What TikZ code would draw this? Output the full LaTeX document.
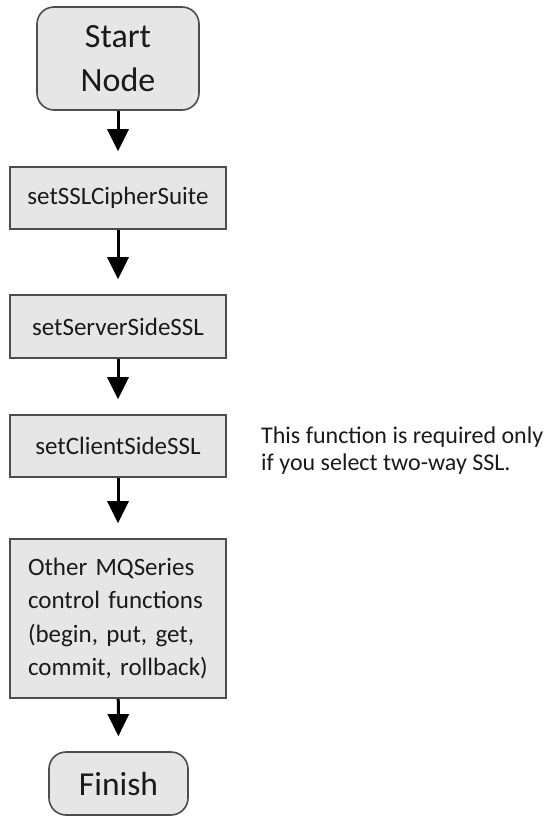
\documentclass[tikz,border=0pt]{standalone}
\usepackage{fontspec}
\setmainfont{Carlito}
\usetikzlibrary{arrows.meta}
\hyphenpenalty=10000
\exhyphenpenalty=10000
\definecolor{boxfill}{HTML}{E6E6E6}
\definecolor{boxline}{HTML}{4D4D4D}
\definecolor{txt}{HTML}{1A1A1A}
\tikzset{
  x=1pt, y=1pt,
  procbox/.style={draw=boxline, fill=boxfill, line width=1.6pt, text=txt,
    minimum width=216pt, inner sep=0pt, font=\fontsize{25}{30}\selectfont},
  termbox/.style={procbox, rounded corners=17pt},
  flowarrow/.style={line width=3pt, -{Triangle[length=22pt,width=21pt]}, shorten >=15pt},
}
\begin{document}
\begin{tikzpicture}
\useasboundingbox (0,0) rectangle (545,-817);
\node[termbox, minimum width=162pt, minimum height=103pt, align=center,
      font=\fontsize{34}{44}\selectfont] (start) at (118,-58.5) {Start\\Node};
\node[procbox, minimum height=62pt] (b1) at (118,-198) {setSSLCipherSuite};
\node[procbox, minimum height=63pt] (b2) at (118,-326.5) {setServerSideSSL};
\node[procbox, minimum height=62pt] (b3) at (118,-446) {setClientSideSSL};
\node[procbox, minimum height=159pt, text width=180pt, align=left,
      font=\fontsize{25}{33.5}\selectfont] (b4) at (118,-618.5)
  {\mbox{Other MQSeries}\\\mbox{control functions}\\\mbox{(begin, put, get,}\\\mbox{commit, rollback)}};
\node[termbox, minimum width=139pt, minimum height=63pt,
      font=\fontsize{33.5}{40}\selectfont] (finish) at (118.5,-783.5) {Finish};
\node[anchor=west, inner sep=0pt, align=left, text=txt,
      font=\fontsize{24}{27}\selectfont] (note) at (261,-451)
  {\mbox{This function is required only}\\\mbox{if you select two-way SSL.}};
\draw[flowarrow] (start) -- (b1);
\draw[flowarrow] (b1) -- (b2);
\draw[flowarrow] (b2) -- (b3);
\draw[flowarrow] (b3) -- (b4);
\draw[flowarrow] (b4) -- (finish);
\end{tikzpicture}
\end{document}
